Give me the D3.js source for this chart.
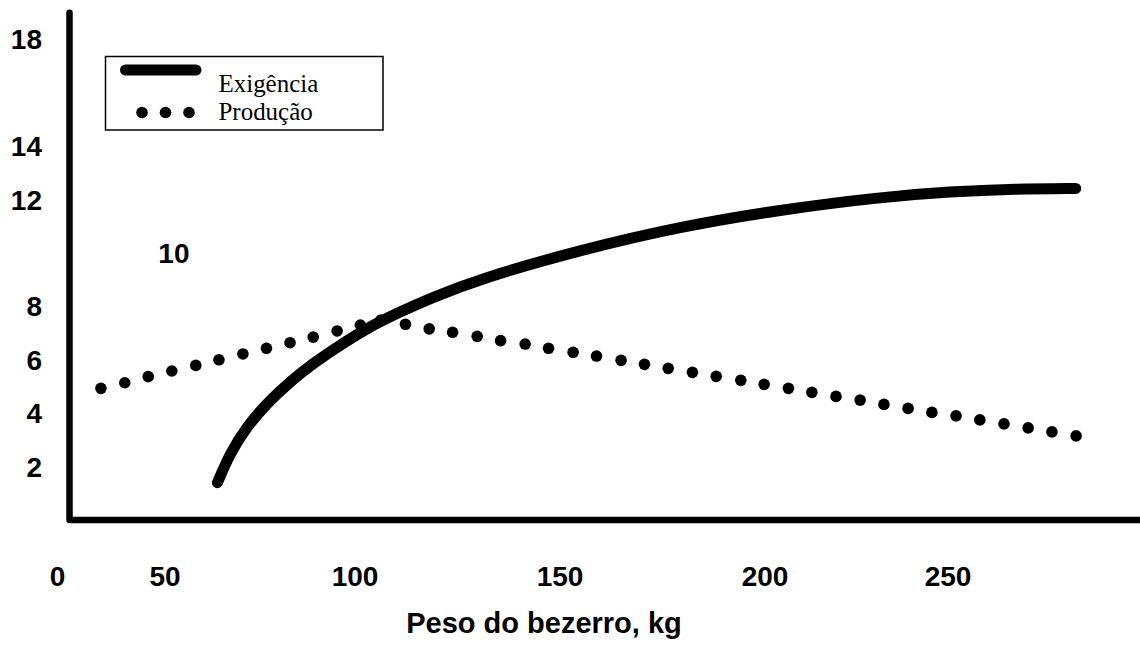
<!DOCTYPE html>
<html>
<head>
<meta charset="utf-8">
<script src="https://cdn.jsdelivr.net/npm/d3@7"></script>
<style>
  html, body { margin: 0; padding: 0; background: #fff; }
  svg { display: block; }
</style>
</head>
<body>
<svg id="chart" width="1140" height="645"></svg>
<script>
// ---- data ----
const xTickValues = [0, 50, 100, 150, 200, 250];
const yTickValues = [2, 4, 6, 8, 10, 12, 14, 18];
const seriesNames = ["Exigência", "Produção"];
const xTitle = "Peso do bezerro, kg";

// Exigência (solid curve)
const exigenciaX = [63.8, 67.1, 71.5, 76.8, 82.9, 89.0, 96.1, 102.9, 110.2, 118.3, 130.5, 154.9, 179.3, 204.1, 231.4, 250.6, 268.8, 284.9];
const exigenciaY = [1.40, 2.50, 3.49, 4.37, 5.18, 5.87, 6.55, 7.18, 7.74, 8.30, 9.04, 10.11, 10.99, 11.62, 12.09, 12.30, 12.40, 12.42];

// Produção (dotted)
const producaoX = [20.2, 31.3, 42.2, 51.8, 58.1, 64.2, 70.5, 76.7, 82.9, 89.0, 95.3, 101.3, 106.3, 112.3, 118.1, 123.8, 129.8, 135.5, 141.5, 147.2, 153.2, 158.9, 164.9, 170.6, 176.4, 182.3, 188.1, 194.1, 199.8, 206.4, 212.8, 219.4, 226.0, 232.5, 239.1, 245.6, 252.2, 258.7, 265.3, 271.9, 278.4, 285.0];
const producaoY = [4.93, 5.14, 5.37, 5.58, 5.79, 6.00, 6.22, 6.43, 6.64, 6.85, 7.08, 7.30, 7.49, 7.33, 7.16, 7.03, 6.88, 6.72, 6.59, 6.43, 6.28, 6.14, 5.98, 5.83, 5.68, 5.53, 5.38, 5.23, 5.08, 4.93, 4.78, 4.63, 4.49, 4.33, 4.18, 4.03, 3.90, 3.75, 3.60, 3.45, 3.30, 3.15];

// ---- layout ----
const svg = d3.select("#chart");
const sans = "'Liberation Sans', Arial, Helvetica, sans-serif";
const serif = "'Liberation Serif', 'Times New Roman', Times, serif";

// x scale: tick labels in the original are unevenly spaced -> polylinear scale
const x = d3.scaleLinear().domain(xTickValues).range([57.5, 165, 355, 560, 765, 948]);
const y = d3.scaleLinear().domain([0, 19]).range([520, 12.7]);

const axisX0 = 69.5;

// axes frame
svg.append("path")
  .attr("d", `M${axisX0},${y(19)} L${axisX0},${y(0)} L1142,${y(0)}`)
  .attr("fill", "none")
  .attr("stroke", "#000")
  .attr("stroke-width", 6.5)
  .attr("stroke-linecap", "round")
  .attr("stroke-linejoin", "round");

// y tick labels
svg.append("g").selectAll("text")
  .data(yTickValues)
  .join("text")
  .attr("x", d => d === 10 ? 189.5 : 42)
  .attr("y", d => y(d))
  .attr("dy", "0.357em")
  .attr("text-anchor", "end")
  .attr("font-family", sans)
  .attr("font-weight", "bold")
  .attr("font-size", 28)
  .text(d => d);

// x tick labels
svg.append("g").selectAll("text")
  .data(xTickValues)
  .join("text")
  .attr("x", d => x(d))
  .attr("y", 585.5)
  .attr("text-anchor", "middle")
  .attr("font-family", sans)
  .attr("font-weight", "bold")
  .attr("font-size", 28)
  .text(d => d);

// x title
svg.append("text")
  .attr("x", 544)
  .attr("y", 633)
  .attr("text-anchor", "middle")
  .attr("font-family", sans)
  .attr("font-weight", "bold")
  .attr("font-size", 29)
  .text(xTitle);

// Produção dots
const prod = producaoX.map((v, i) => ({ x: v, y: producaoY[i] }));
svg.append("g").selectAll("circle")
  .data(prod)
  .join("circle")
  .attr("cx", d => x(d.x))
  .attr("cy", d => y(d.y))
  .attr("r", 5.8)
  .attr("fill", "#000");

// Exigência curve
const exig = exigenciaX.map((v, i) => ({ x: v, y: exigenciaY[i] }));
const line = d3.line().x(d => x(d.x)).y(d => y(d.y)).curve(d3.curveBasis);
svg.append("path")
  .datum(exig)
  .attr("d", line)
  .attr("fill", "none")
  .attr("stroke", "#000")
  .attr("stroke-width", 11)
  .attr("stroke-linecap", "round")
  .attr("stroke-linejoin", "round");

// legend
const lg = svg.append("g");
lg.append("rect")
  .attr("x", 105.5).attr("y", 56.5)
  .attr("width", 277.5).attr("height", 73.5)
  .attr("fill", "#fff")
  .attr("stroke", "#000")
  .attr("stroke-width", 1.5);
lg.append("line")
  .attr("x1", 125.5).attr("x2", 196)
  .attr("y1", 70).attr("y2", 70)
  .attr("stroke", "#000")
  .attr("stroke-width", 11)
  .attr("stroke-linecap", "round");
lg.append("g").selectAll("circle")
  .data([142, 165.5, 189])
  .join("circle")
  .attr("cx", d => d)
  .attr("cy", 112.5)
  .attr("r", 5.8)
  .attr("fill", "#000");
lg.selectAll("text.lab")
  .data(seriesNames)
  .join("text")
  .attr("class", "lab")
  .attr("x", 218.5)
  .attr("y", (d, i) => i === 0 ? 91.7 : 120)
  .attr("font-family", serif)
  .attr("font-size", 26)
  .attr("transform", "translate(218.5,0) scale(0.96,1) translate(-218.5,0)")
  .text(d => d);
</script>
</body>
</html>
